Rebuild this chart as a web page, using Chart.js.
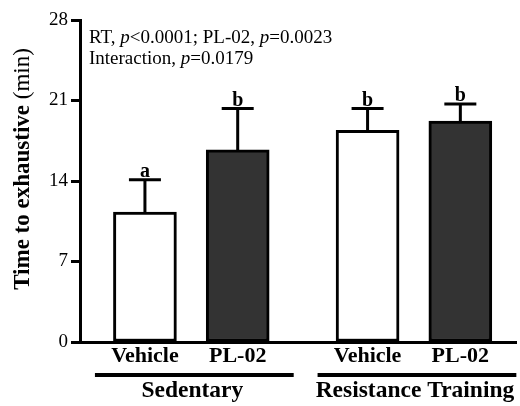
<!DOCTYPE html>
<html>
<head>
<meta charset="utf-8">
<script src="https://cdn.jsdelivr.net/npm/chart.js@4/dist/chart.umd.min.js"></script>
<style>
  html, body { margin: 0; padding: 0; background: #fff; }
  #wrap { width: 520px; height: 406px; }
</style>
</head>
<body>
<div id="wrap"><canvas id="c" width="520" height="406"></canvas></div>
<script>
var treatments = ["Vehicle", "PL-02", "Vehicle", "PL-02"];
var groups = ["Sedentary", "Resistance Training"];
var groupOf = [0, 0, 1, 1];
var xPos = [0, 1, 2.4, 3.4];
var means = [11.3, 16.7, 18.4, 19.2];
var sems = [2.8, 3.6, 1.9, 1.5];
var letters = ["a", "b", "b", "b"];
var yTicks = [0, 7, 14, 21, 28];
var fills = ["#ffffff", "#333333", "#ffffff", "#333333"];

var serif = "'Liberation Serif', 'Times New Roman', serif";

var extras = {
  id: "extras",
  afterDatasetsDraw: function (chart) {
    var ctx = chart.ctx;
    var xs = chart.scales.x, ys = chart.scales.y;
    ctx.save();
    ctx.strokeStyle = "#000";
    ctx.fillStyle = "#000";
    ctx.lineWidth = 3;
    // error bars + letters
    means.forEach(function (m, i) {
      var px = xs.getPixelForValue(xPos[i]);
      var top = ys.getPixelForValue(m + sems[i]);
      var base = ys.getPixelForValue(m);
      ctx.beginPath();
      ctx.moveTo(px, base);
      ctx.lineTo(px, top);
      ctx.moveTo(px - 16, top);
      ctx.lineTo(px + 16, top);
      ctx.stroke();
      ctx.font = "bold 20px " + serif;
      ctx.textAlign = "center";
      ctx.textBaseline = "alphabetic";
      ctx.fillText(letters[i], px, top - 3);
    });
    // x labels
    ctx.font = "bold 22px " + serif;
    ctx.textAlign = "center";
    ctx.textBaseline = "alphabetic";
    treatments.forEach(function (t, i) {
      ctx.fillText(t, xs.getPixelForValue(xPos[i]), 362);
    });
    // group lines + names
    groups.forEach(function (g, gi) {
      var idx = [];
      groupOf.forEach(function (v, i) { if (v === gi) idx.push(i); });
      var a = xs.getPixelForValue(xPos[idx[0]]) - 50;
      var b = xs.getPixelForValue(xPos[idx[idx.length - 1]]) + 56;
      ctx.lineWidth = 4;
      ctx.beginPath();
      ctx.moveTo(a, 375);
      ctx.lineTo(b, 375);
      ctx.stroke();
      ctx.font = "bold 23.5px " + serif;
      ctx.fillText(g, (a + b) / 2 - 2, 397);
    });
    // stats text
    ctx.textAlign = "left";
    ctx.textBaseline = "alphabetic";
    function runs(parts, x, y) {
      parts.forEach(function (p) {
        ctx.font = (p[1] ? "italic " : "") + "19px " + serif;
        ctx.fillText(p[0], x, y);
        x += ctx.measureText(p[0]).width;
      });
    }
    runs([["RT, ", 0], ["p", 1], ["<0.0001; PL-02, ", 0], ["p", 1], ["=0.0023", 0]], 89, 43);
    runs([["Interaction, ", 0], ["p", 1], ["=0.0179", 0]], 89, 64);
    // y title
    ctx.translate(23, 169);
    ctx.rotate(-Math.PI / 2);
    var t1 = "Time to exhaustive ";
    ctx.font = "bold 23px " + serif;
    var w1 = ctx.measureText(t1).width;
    ctx.font = "23px " + serif;
    var w2 = ctx.measureText("(min)").width;
    var sx = -(w1 + w2) / 2;
    ctx.textAlign = "left";
    ctx.textBaseline = "middle";
    ctx.font = "bold 23px " + serif;
    ctx.fillText(t1, sx, 0);
    ctx.font = "23px " + serif;
    ctx.fillText("(min)", sx + w1, 0);
    ctx.restore();
  }
};

new Chart(document.getElementById("c"), {
  type: "bar",
  data: {
    datasets: [{
      data: means.map(function (m, i) { return { x: xPos[i], y: m }; }),
      backgroundColor: fills,
      borderColor: "#000",
      borderWidth: 3,
      borderSkipped: false,
      barThickness: 63
    }]
  },
  options: {
    responsive: false,
    animation: false,
    layout: { padding: { top: 20, right: 4, left: 0, bottom: 0 } },
    plugins: { legend: { display: false }, tooltip: { enabled: false } },
    scales: {
      x: {
        type: "linear",
        offset: false,
        min: -0.7,
        max: 4.0,
        grid: { display: false, drawTicks: false },
        border: { color: "#000", width: 3 },
        ticks: { display: false },
        afterFit: function (s) { s.height = 64; }
      },
      y: {
        min: 0,
        max: 28,
        afterBuildTicks: function (s) { s.ticks = yTicks.map(function (v) { return { value: v }; }); },
        grid: { drawOnChartArea: false, tickLength: 9, tickWidth: 3, tickColor: "#000" },
        border: { color: "#000", width: 3 },
        ticks: { color: "#000", padding: 3, font: { family: serif, size: 19 } },
        afterFit: function (s) { s.width = 80; }
      }
    }
  },
  plugins: [extras]
});
</script>
</body>
</html>
